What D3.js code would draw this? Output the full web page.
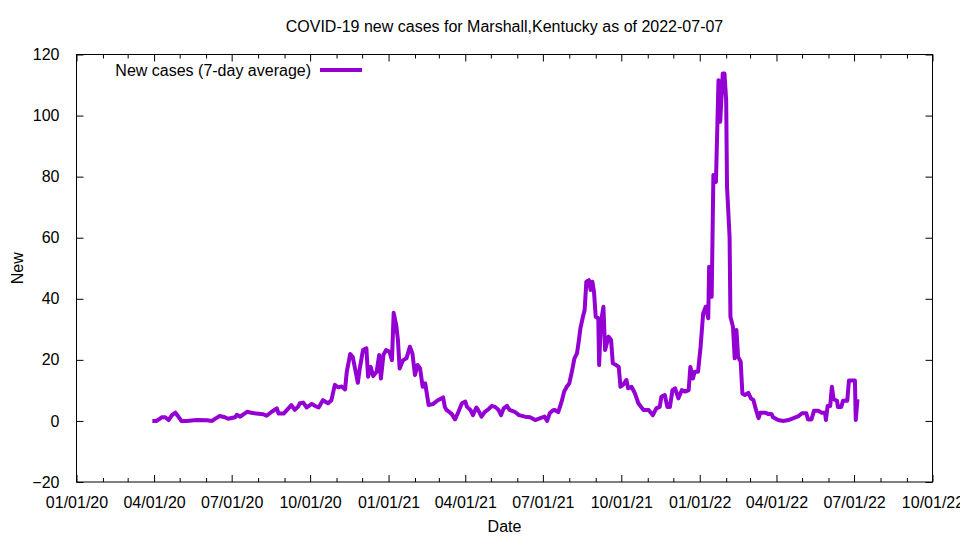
<!DOCTYPE html>
<html>
<head>
<meta charset="utf-8">
<script src="https://cdn.jsdelivr.net/npm/d3@7"></script>
<style>
    body { margin: 0; background: #fff; }
    svg text { font-family: "Liberation Sans", Arial, sans-serif; fill: #000; }
</style>
</head>
<body>
<div class="chart"></div>
<script>
// Data (7-day average of new cases)
const dates = [
    "2020-03-30","2020-04-04","2020-04-10","2020-04-14","2020-04-18","2020-04-22","2020-04-26","2020-04-29",
    "2020-05-03","2020-05-09","2020-05-21","2020-06-02","2020-06-08","2020-06-11","2020-06-17","2020-06-23",
    "2020-06-27","2020-07-05","2020-07-07","2020-07-11","2020-07-19","2020-07-24","2020-07-30","2020-08-07",
    "2020-08-11","2020-08-17","2020-08-23","2020-08-25","2020-08-31","2020-09-09","2020-09-13","2020-09-17",
    "2020-09-19","2020-09-23","2020-09-27","2020-10-03","2020-10-07","2020-10-11","2020-10-16","2020-10-22",
    "2020-10-26","2020-10-30","2020-11-03","2020-11-07","2020-11-11","2020-11-13","2020-11-17","2020-11-20",
    "2020-11-23","2020-11-26","2020-11-28","2020-12-02","2020-12-06","2020-12-08","2020-12-11","2020-12-14",
    "2020-12-18","2020-12-21","2020-12-23","2020-12-26","2020-12-29","2021-01-02","2021-01-05","2021-01-07",
    "2021-01-10","2021-01-12","2021-01-14","2021-01-18","2021-01-22","2021-01-26","2021-01-29","2021-02-01",
    "2021-02-04","2021-02-07","2021-02-10","2021-02-13","2021-02-17","2021-02-22","2021-02-28","2021-03-06",
    "2021-03-08","2021-03-10","2021-03-16","2021-03-20","2021-03-24","2021-03-28","2021-04-01","2021-04-03",
    "2021-04-07","2021-04-10","2021-04-14","2021-04-16","2021-04-20","2021-04-24","2021-04-28","2021-05-02",
    "2021-05-06","2021-05-10","2021-05-13","2021-05-16","2021-05-20","2021-05-23","2021-05-29","2021-06-03",
    "2021-06-10","2021-06-16","2021-06-22","2021-06-28","2021-07-03","2021-07-06","2021-07-09","2021-07-13",
    "2021-07-15","2021-07-19","2021-07-23","2021-07-26","2021-07-29","2021-08-01","2021-08-04","2021-08-07",
    "2021-08-10","2021-08-12","2021-08-14","2021-08-17","2021-08-19","2021-08-21","2021-08-24","2021-08-26",
    "2021-08-28","2021-08-30","2021-09-01","2021-09-04","2021-09-05","2021-09-07","2021-09-10","2021-09-12",
    "2021-09-16","2021-09-19","2021-09-21","2021-09-25","2021-09-28","2021-09-30","2021-10-03","2021-10-07",
    "2021-10-09","2021-10-13","2021-10-17","2021-10-21","2021-10-27","2021-11-02","2021-11-07","2021-11-11",
    "2021-11-15","2021-11-17","2021-11-21","2021-11-24","2021-11-27","2021-11-30","2021-12-03","2021-12-07",
    "2021-12-11","2021-12-15","2021-12-19","2021-12-21","2021-12-24","2021-12-26","2021-12-30","2022-01-02",
    "2022-01-05","2022-01-08","2022-01-11","2022-01-12","2022-01-15","2022-01-17","2022-01-20","2022-01-23",
    "2022-01-25","2022-01-28","2022-01-30","2022-02-01","2022-02-02","2022-02-05","2022-02-06","2022-02-09",
    "2022-02-11","2022-02-13","2022-02-15","2022-02-18","2022-02-20","2022-02-23","2022-02-27","2022-03-02",
    "2022-03-05","2022-03-08","2022-03-11","2022-03-13","2022-03-19","2022-03-22","2022-03-26","2022-03-28",
    "2022-04-03","2022-04-09","2022-04-15","2022-04-21","2022-04-27","2022-05-01","2022-05-06","2022-05-08",
    "2022-05-12","2022-05-15","2022-05-20","2022-05-24","2022-05-28","2022-05-29","2022-05-31","2022-06-03",
    "2022-06-05","2022-06-07","2022-06-11","2022-06-12","2022-06-16","2022-06-18","2022-06-23","2022-06-25",
    "2022-07-02","2022-07-03","2022-07-05"
];
const newCases = [
    0, 0, 1.2, 1.2, 0.3, 1.9, 2.7, 1.6,
    0, 0, 0.3, 0.2, 0, 0.6, 1.6, 1.2,
    0.7, 1.2, 2, 1.4, 3, 2.7, 2.4, 2.2,
    1.7, 3, 4.1, 2.4, 2.4, 5.2, 3.6, 4.7,
    5.8, 6, 4.4, 5.6, 4.9, 4.4, 6.8, 5.8,
    6.8, 11.8, 11, 11.3, 10.3, 16.1, 21.9, 21,
    16.7, 12.5, 16.7, 23.2, 23.8, 14.5, 17.7, 14.7,
    16.1, 21.6, 13.9, 21.6, 23.2, 22.7, 19.9, 35.4,
    31.4, 26.5, 17.2, 19.9, 20.5, 24.3, 22.1, 15,
    18.3, 17.2, 11.2, 12.3, 5.2, 5.5, 6.8, 7.7,
    4.6, 3.6, 2.3, 0.5, 3, 5.8, 6.3, 4.6,
    3.6, 1.9, 4.4, 3.6, 1.4, 3, 3.8, 4.9,
    4.6, 3.6, 1.9, 4.1, 4.9, 3.6, 3, 1.9,
    1.4, 1.2, 0.3, 0.9, 1.4, 0, 2.5, 3.5,
    3.6, 2.9, 6.3, 9.6, 11.2, 12.3, 16.1, 20.5,
    22.1, 25.9, 30.3, 34.1, 36.3, 45.6, 46.1, 42.9,
    45.6, 42.3, 34.1, 33.6, 18.3, 32, 37.4, 23.2,
    27.6, 26.5, 18.9, 18.3, 17.7, 11.2, 11.8, 13.4,
    10.7, 11.2, 9, 5.8, 3.6, 3.6, 1.9, 4.1,
    4.6, 7.9, 8.5, 4.6, 4.6, 10.1, 10.7, 7.4,
    10.1, 9.6, 10.1, 17.7, 13.9, 16.1, 16.1, 24.3,
    35.2, 37.4, 33.6, 50.5, 40.7, 80.5, 78.3, 111.6,
    98, 113.8, 113.8, 105, 76.7, 60.3, 34.1, 30.8,
    20.5, 29.8, 21, 19.4, 9, 8.5, 9.2, 7.4,
    6.8, 3.6, 0.9, 2.7, 2.7, 2.3, 2.3, 1.2,
    0.3, 0, 0.3, 0.9, 1.6, 2.5, 2.5, 0.5,
    0.5, 3.3, 3.3, 2.7, 2.7, 0.3, 4.9, 4.9,
    11.2, 7.1, 6.6, 4.6, 4.6, 6.6, 6.6, 13.2,
    13.2, 0.3, 7.1
];
const xTickLabels = ["01/01/20","04/01/20","07/01/20","10/01/20","01/01/21","04/01/21",
                     "07/01/21","10/01/21","01/01/22","04/01/22","07/01/22","10/01/22"];
const yTickValues = [-20, 0, 20, 40, 60, 80, 100, 120];
const titleText = "COVID-19 new cases for Marshall,Kentucky as of 2022-07-07";
const legendText = "New cases (7-day average)";

// Layout
const WIDTH = 960, HEIGHT = 540;
const LEFT = 76.5, RIGHT = 932.5, TOP = 54.5, BOTTOM = 482;
const FONT = 16;
const COLOR = "#9400d3";

const parse = d3.timeParse("%Y-%m-%d");
const tickParse = d3.timeParse("%m/%d/%y");
const data = dates.map((d, i) => ({ date: parse(d), value: newCases[i] }));

const svg = d3.select(".chart")
    .append("svg")
        .attr("width", WIDTH)
        .attr("height", HEIGHT);

const x = d3.scaleTime()
    .domain([tickParse(xTickLabels[0]), tickParse(xTickLabels[xTickLabels.length - 1])])
    .range([LEFT, RIGHT]);
const y = d3.scaleLinear()
    .domain([yTickValues[0], yTickValues[yTickValues.length - 1]])
    .range([BOTTOM, TOP]);

const majorTicks = xTickLabels.map(tickParse);
const minorTicks = d3.timeMonth.range(x.domain()[0], x.domain()[1])
    .filter(d => d.getMonth() % 3 !== 0);

// Axes: inward ticks, mirrored on top/right like gnuplot
const fmt = d3.timeFormat("%m/%d/%y");
svg.append("g")
    .attr("transform", `translate(0,${BOTTOM})`)
    .call(d3.axisBottom(x).tickValues(majorTicks).tickFormat(fmt).tickSizeInner(-7).tickSizeOuter(0).tickPadding(15))
    .call(g => g.select(".domain").remove())
    .call(g => g.selectAll("text").attr("font-size", FONT).attr("font-family", null));
svg.append("g")
    .attr("transform", `translate(0,${BOTTOM})`)
    .call(d3.axisBottom(x).tickValues(minorTicks).tickFormat("").tickSizeInner(-4).tickSizeOuter(0))
    .call(g => g.select(".domain").remove());
svg.append("g")
    .attr("transform", `translate(0,${TOP})`)
    .call(d3.axisTop(x).tickValues(majorTicks).tickFormat("").tickSizeInner(-7).tickSizeOuter(0))
    .call(g => g.select(".domain").remove());
svg.append("g")
    .attr("transform", `translate(0,${TOP})`)
    .call(d3.axisTop(x).tickValues(minorTicks).tickFormat("").tickSizeInner(-4).tickSizeOuter(0))
    .call(g => g.select(".domain").remove());

svg.append("g")
    .attr("transform", `translate(${LEFT},0)`)
    .call(d3.axisLeft(y).tickValues(yTickValues).tickSizeInner(-7).tickSizeOuter(0).tickPadding(17))
    .call(g => g.select(".domain").remove())
    .call(g => g.selectAll("text").attr("font-size", FONT).attr("font-family", null));
svg.append("g")
    .attr("transform", `translate(${RIGHT},0)`)
    .call(d3.axisRight(y).tickValues(yTickValues).tickFormat("").tickSizeInner(-7).tickSizeOuter(0))
    .call(g => g.select(".domain").remove());

svg.selectAll(".tick line").attr("stroke", "#000");

// Border
svg.append("rect")
    .attr("x", LEFT).attr("y", TOP)
    .attr("width", RIGHT - LEFT).attr("height", BOTTOM - TOP)
    .attr("fill", "none").attr("stroke", "#000").attr("stroke-width", 1);

// Data line
const line = d3.line()
    .x(d => x(d.date))
    .y(d => y(d.value));
svg.append("path")
    .datum(data)
    .attr("d", line)
    .attr("fill", "none")
    .attr("stroke", COLOR)
    .attr("stroke-width", 4)
    .attr("stroke-linejoin", "round");

// Title and labels
svg.append("text")
    .text(titleText)
    .attr("x", (LEFT + RIGHT) / 2).attr("y", 32)
    .attr("text-anchor", "middle").attr("font-size", FONT);
svg.append("text")
    .text("Date")
    .attr("x", (LEFT + RIGHT) / 2).attr("y", 532)
    .attr("text-anchor", "middle").attr("font-size", FONT);
svg.append("text")
    .text("New")
    .attr("transform", `translate(23,${(TOP + BOTTOM) / 2}) rotate(-90)`)
    .attr("text-anchor", "middle").attr("font-size", FONT);

// Legend
svg.append("text")
    .text(legendText)
    .attr("x", 311).attr("y", 76)
    .attr("text-anchor", "end").attr("font-size", FONT);
svg.append("line")
    .attr("x1", 320).attr("x2", 362)
    .attr("y1", 70).attr("y2", 70)
    .attr("stroke", COLOR).attr("stroke-width", 4);
</script>
</body>
</html>
